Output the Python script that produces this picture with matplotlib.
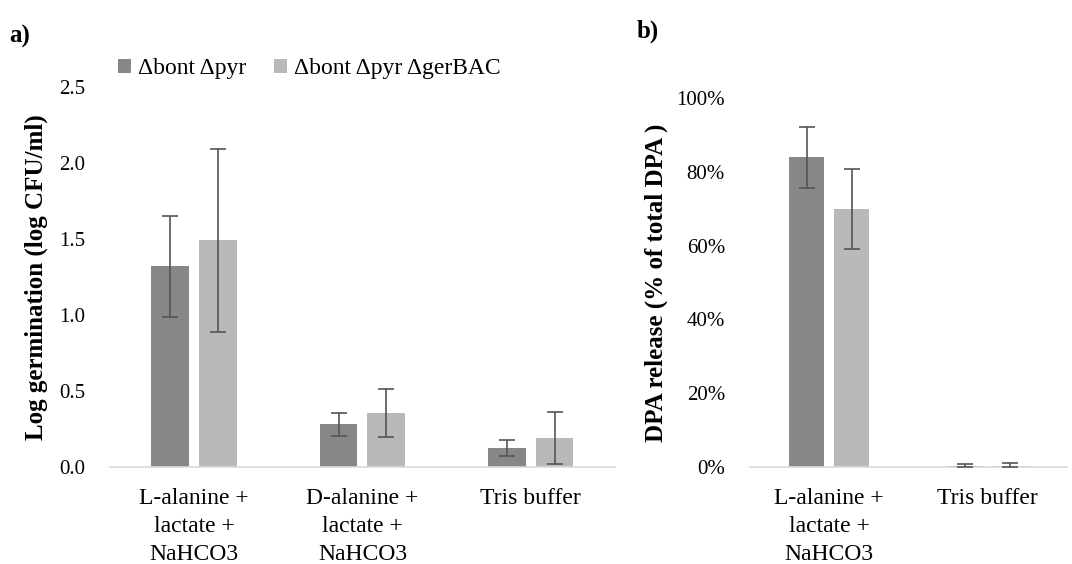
import numpy as np
import matplotlib.pyplot as plt
import matplotlib.ticker as ticker

plt.rcParams['font.family'] = ['Liberation Serif', 'DejaVu Serif']

# data
cats_a = ['L-alanine +\nlactate +\nNaHCO3', 'D-alanine +\nlactate +\nNaHCO3', 'Tris buffer']
germ_pyr = [1.32, 0.28, 0.127]
germ_pyr_err = [0.33, 0.078, 0.053]
germ_ger = [1.49, 0.355, 0.192]
germ_ger_err = [0.60, 0.16, 0.172]

cats_b = ['L-alanine +\nlactate +\nNaHCO3', 'Tris buffer']
dpa_pyr = [0.839, 0.002]
dpa_pyr_err = [0.082, 0.006]
dpa_ger = [0.699, 0.003]
dpa_ger_err = [0.108, 0.009]

labels = ['\u0394bont \u0394pyr', '\u0394bont \u0394pyr \u0394gerBAC']

c_dark = '#878787'
c_light = '#b9b9b9'
c_err = '#555555'
tam = 17

fig = plt.figure(figsize=(10.72, 5.64), dpi=100)
ax1 = fig.add_axes([0.1026, 0.172, 0.471, 0.6738])
ax2 = fig.add_axes([0.6996, 0.172, 0.2957, 0.6738 * 370 / 381])

w = 0.224
off = 0.142


def bars(ax, cats, v1, e1, v2, e2):
    x = np.arange(len(cats))
    v1 = np.array(v1); e1 = np.array(e1)
    v2 = np.array(v2); e2 = np.array(e2)
    b1 = ax.bar(x - off, v1, w, color=c_dark, zorder=2)
    b2 = ax.bar(x + off, v2, w, color=c_light, zorder=2)
    ax.errorbar(x - off, v1, yerr=[np.minimum(e1, v1), e1], fmt='none',
                ecolor=c_err, elinewidth=1.2, capsize=6, capthick=1.2, zorder=3)
    ax.errorbar(x + off, v2, yerr=[np.minimum(e2, v2), e2], fmt='none',
                ecolor=c_err, elinewidth=1.2, capsize=6, capthick=1.2, zorder=3)
    ax.set_xticks(x)
    ax.set_xticklabels(cats, fontsize=tam, linespacing=1.45)
    ax.set_xlim(-0.5, len(cats) - 0.5)
    for s in ['top', 'right', 'left']:
        ax.spines[s].set_visible(False)
    ax.spines['bottom'].set_color('#d9d9d9')
    ax.spines['bottom'].set_linewidth(1.2)
    ax.tick_params(axis='both', length=0)
    ax.tick_params(axis='x', pad=15, labelsize=tam)
    ax.tick_params(axis='y', pad=18, labelsize=15)
    return b1, b2


b1, b2 = bars(ax1, cats_a, germ_pyr, germ_pyr_err, germ_ger, germ_ger_err)
ax1.set_ylim(0, 2.5)
ax1.set_yticks([0, 0.5, 1.0, 1.5, 2.0, 2.5])
ax1.yaxis.set_major_formatter(ticker.StrMethodFormatter('{x:.1f}'))
ax1.set_ylabel('Log germination (log CFU/ml)', fontsize=18, fontweight='bold', labelpad=8)

bars(ax2, cats_b, dpa_pyr, dpa_pyr_err, dpa_ger, dpa_ger_err)
ax2.set_ylim(0, 1.0)
ax2.set_yticks([0, 0.2, 0.4, 0.6, 0.8, 1.0])
ax2.yaxis.set_major_formatter(ticker.PercentFormatter(1.0, decimals=0))
ax2.set_ylabel('DPA release (% of total DPA )', fontsize=18, fontweight='bold', labelpad=6)

fig.legend([b1, b2], labels, loc='center left', bbox_to_anchor=(0.09, 0.878),
           ncol=2, frameon=False, fontsize=17, handlelength=0.55, handleheight=0.55,
           handletextpad=0.3, columnspacing=1.2)

fig.text(0.009, 0.935, 'a)', fontsize=18, fontweight='bold', va='center')
fig.text(0.594, 0.945, 'b)', fontsize=18, fontweight='bold', va='center')

plt.savefig('out.png', dpi=100)
